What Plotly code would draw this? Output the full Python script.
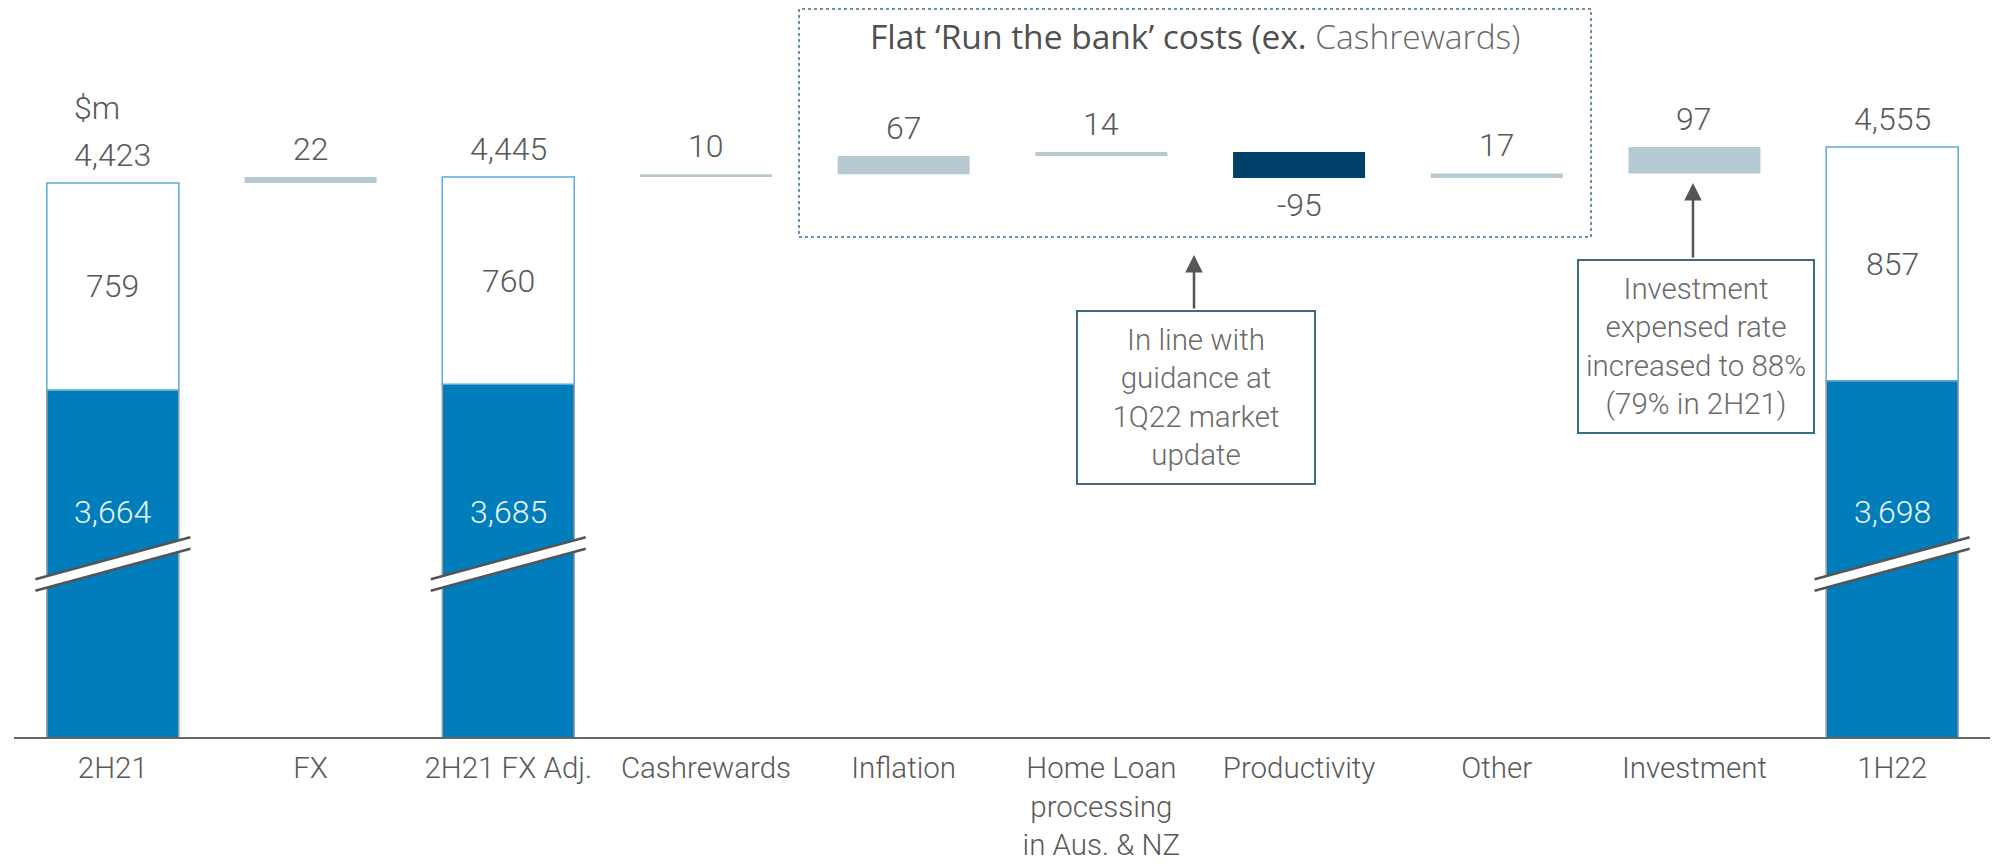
import plotly.graph_objects as go

# ---------------- data ----------------
categories = ["2H21", "FX", "2H21 FX Adj.", "Cashrewards", "Inflation",
              "Home Loan<br>processing<br>in Aus. & NZ", "Productivity",
              "Other", "Investment", "1H22"]
total_categories = ["2H21", "2H21 FX Adj.", "1H22"]
total_lower = [3664, 3685, 3698]
total_upper = [759, 760, 857]
delta_categories = ["FX", "Cashrewards", "Inflation",
                    "Home Loan<br>processing<br>in Aus. & NZ", "Productivity",
                    "Other", "Investment"]
delta_values = [22, 10, 67, 14, -95, 17, 97]
unit_label = "$m"
box_title_main = "Flat ‘Run the bank’ costs (ex."
box_title_light = "Cashrewards)"
note_guidance = "In line with<br>guidance at<br>1Q22 market<br>update"
note_investment = "Investment<br>expensed rate<br>increased to 88%<br>(79% in 2H21)"

# ---------------- style / layout constants ----------------
PAGE_OFF = 8                      # default body margin of the html page
W, H = 1998 - PAGE_OFF, 864 - PAGE_OFF
PLOT_L, PLOT_R, PLOT_B = 14, 1991, 737   # page coordinates of the plot area
ML = PLOT_L - PAGE_OFF
MR = W - (PLOT_R - PAGE_OFF)
MT = 0
MB = H - (PLOT_B - PAGE_OFF)
PW, PH = W - ML - MR, H - MT - MB
Y_FLOOR = 2392            # value where the (broken) axis starts
PX_PER_UNIT = 0.2728
Y_CEIL = Y_FLOOR + PH / PX_PER_UNIT

BLUE = "#007DBA"
LIGHT = "#B7C9D1"
NAVY = "#00416A"
GREY_TXT = "#595959"
FONT = "Roboto"


def px_x(x):
    return (x - PLOT_L) / PW


def px_y(y):
    return (PLOT_B - y) / PH


def fmt(v):
    return f"{v:,}"


# running bases for waterfall deltas
running = total_lower[0] + total_upper[0]
delta_base, delta_height, delta_color, delta_top, delta_bottom = [], [], [], [], []
for d in delta_values:
    lo = min(running, running + d)
    delta_base.append(lo)
    delta_height.append(abs(d))
    delta_color.append(NAVY if d < 0 else LIGHT)
    delta_top.append(lo + abs(d))
    delta_bottom.append(lo)
    running += d

totals = [a + b for a, b in zip(total_lower, total_upper)]

fig = go.Figure()
fig.add_trace(go.Bar(x=total_categories, y=total_lower, base=[0] * 3,
                     marker=dict(color=BLUE, line=dict(color="#A0A0A0", width=1.5)),
                     hoverinfo="skip"))
fig.add_trace(go.Bar(x=total_categories, y=total_upper, base=total_lower,
                     marker=dict(color="white", line=dict(color="#5AAAD8", width=1.5)),
                     hoverinfo="skip"))
fig.add_trace(go.Bar(x=delta_categories, y=delta_height, base=delta_base,
                     marker=dict(color=delta_color, line=dict(width=0)),
                     hoverinfo="skip"))

ann = []
lbl_font = dict(family=FONT, size=32, color=GREY_TXT, weight=300)
# totals labels
for c, lo, up, t in zip(total_categories, total_lower, total_upper, totals):
    ann.append(dict(x=c, y=t, xref="x", yref="y", text=fmt(t), showarrow=False,
                    yanchor="middle", yshift=28, font=lbl_font))
    ann.append(dict(x=c, y=lo + up / 2, xref="x", yref="y", text=fmt(up), showarrow=False,
                    yanchor="middle", font=lbl_font))
    ann.append(dict(x=c, y=px_y(512), xref="x", yref="paper", text=fmt(lo), showarrow=False,
                    yanchor="middle", font=dict(family=FONT, size=32, color="#EAF5FB", weight=300)))
# delta labels
for c, d, top, bot in zip(delta_categories, delta_values, delta_top, delta_bottom):
    if d >= 0:
        ann.append(dict(x=c, y=top, xref="x", yref="y", text=fmt(d), showarrow=False,
                        yanchor="middle", yshift=28, font=lbl_font))
    else:
        ann.append(dict(x=c, y=bot, xref="x", yref="y", text=fmt(d), showarrow=False,
                        yanchor="middle", yshift=-27, font=lbl_font))

# unit label
ann.append(dict(x=px_x(72), y=px_y(108), xref="paper", yref="paper", text=unit_label,
                showarrow=False, xanchor="left", yanchor="middle", font=lbl_font))

# dotted box title
ann.append(dict(x=px_x(1195), y=px_y(36), xref="paper", yref="paper",
                text=f"{box_title_main} <span style='font-weight:300;color:#6a6a6a'>{box_title_light}</span>",
                showarrow=False, xanchor="center", yanchor="middle",
                font=dict(family="Open Sans", size=33.5, color="#505050", weight=400)))

# note boxes
note_font = dict(family=FONT, size=29.5, color="#6a6a6a", weight=300)
for txt, x0, x1, y0, y1, tipx, tipy in [
        (note_guidance, 1076, 1316, 310, 485, 1194, 255),
        (note_investment, 1577, 1815, 259, 434, 1693, 183)]:
    ann.append(dict(x=px_x((x0 + x1) / 2), y=px_y((y0 + y1) / 2), xref="paper", yref="paper",
                    text=txt, showarrow=False, xanchor="center", yanchor="middle",
                    width=x1 - x0 - 4, height=y1 - y0 - 4, borderpad=0,
                    bordercolor="#3D6A84", borderwidth=2, bgcolor="rgba(0,0,0,0)",
                    font=note_font, align="center"))
    ann.append(dict(x=px_x(tipx), y=px_y(tipy), xref="paper", yref="paper", text="",
                    showarrow=True, ax=0, ay=y0 - tipy, axref="pixel", ayref="pixel",
                    arrowhead=2, arrowsize=1.4, arrowwidth=2.5, arrowcolor="#555555",
                    standoff=0, startstandoff=0))

shapes = []
# dotted box
shapes.append(dict(type="rect", xref="paper", yref="paper",
                   x0=px_x(799), x1=px_x(1591), y0=px_y(237), y1=px_y(9),
                   line=dict(color="#3F6E8C", width=1.5, dash="dot"), layer="above"))
# axis break marks
half, rise, gap = 77.5, 21, 5.75
band = (f"M{-half},{-rise - gap} L{half},{rise - gap} L{half},{rise + gap} "
        f"L{-half},{-rise + gap} Z")
for c in total_categories:
    common = dict(xref="x", yref="paper", xsizemode="pixel", ysizemode="pixel",
                  xanchor=c, yanchor=px_y(564), layer="above")
    shapes.append(dict(type="path", path=band, fillcolor="white",
                       line=dict(width=0), **common))
    for off in (gap, -gap):
        shapes.append(dict(type="path", path=f"M{-half},{-rise + off} L{half},{rise + off}",
                           line=dict(color="#555555", width=2.5), **common))

fig.update_layout(
    width=W, height=H,
    margin=dict(l=ML, r=MR, t=MT, b=MB),
    paper_bgcolor="white", plot_bgcolor="white",
    barmode="overlay", bargap=1 - 132 / (PW / 10),
    showlegend=False,
    font=dict(family=FONT, color=GREY_TXT, weight=300),
    xaxis=dict(type="category", categoryorder="array", categoryarray=categories,
               range=[-0.5, 9.5], showgrid=False, zeroline=False,
               showline=True, linecolor="#666666", linewidth=2, ticks="",
               ticklabelstandoff=4,
               tickfont=dict(family=FONT, size=29.5, color=GREY_TXT, weight=300)),
    yaxis=dict(range=[Y_FLOOR, Y_CEIL], visible=False, showgrid=False, zeroline=False),
    annotations=ann, shapes=shapes,
)

fig.write_html("out.html")
